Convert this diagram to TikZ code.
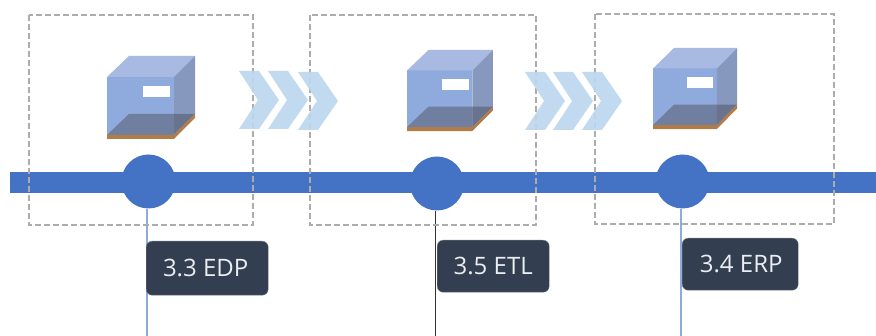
\documentclass[tikz,border=0pt]{standalone}
\usepackage{fontspec}
\setmainfont{Open Sans}
\definecolor{barblue}{RGB}{68,114,196}
\definecolor{stemblue}{RGB}{143,170,220}
\definecolor{chev}{RGB}{189,215,238}
\definecolor{dashgray}{RGB}{172,172,172}
\definecolor{labelbg}{RGB}{51,63,80}
\definecolor{labeltx}{RGB}{235,238,242}
\definecolor{cubefront}{RGB}{143,170,220}
\definecolor{cubetop}{RGB}{168,186,225}
\definecolor{cuberight}{RGB}{134,152,190}
\definecolor{cubefloor}{RGB}{112,127,160}
\definecolor{cubefloorb}{RGB}{105,115,142}
\definecolor{cubebrown}{RGB}{178,124,72}
\tikzset{
  framebox/.style={draw=dashgray,line width=1.7pt,dash pattern=on 6pt off 3pt},
  dotnode/.style={circle,fill=barblue,inner sep=0pt,minimum size=54pt},
  stemline/.style={line width=1.1pt,draw=stemblue},
  stemdark/.style={line width=0.8pt,draw=black!80},
  labelbox/.style={fill=labelbg,draw=labelbg!70,line width=.4pt,rounded corners=6pt,text=labeltx,font=\fontsize{24}{28}\selectfont,inner sep=0pt,anchor=north west},
  chevshape/.style={fill=chev,draw=none,fill opacity=.92},
  pics/cube/.style={code={
    \fill[cubefront] (0,21) -- (67,21) -- (67,79) -- (0,79) -- cycle;
    \fill[cubetop] (0,21) -- (22,0) -- (88,0) -- (67,21) -- cycle;
    \fill[cuberight] (67,21) -- (88,0) -- (88,58) -- (67,79) -- cycle;
    \fill[cubefloor] (0,79) -- (22,58) -- (67,58) -- (67,79) -- cycle;
    \fill[cubefloorb] (67,58) -- (88,58) -- (67,79) -- cycle;
    \fill[cubebrown] (0,79) -- (67,79) -- (88,58) -- (88,62) -- (67,83) -- (0,83) -- cycle;
    \fill[white] (36,30) rectangle (63,41.5);
  }}
}
\newcommand{\chevron}[3]{% left x, top y, bottom y
  \fill[chevshape] (#1,#2) -- ({#1+20},#2) -- ({#1+40},{(#2+#3)/2}) -- ({#1+20},#3) -- (#1,#3) -- ({#1+19},{(#2+#3)/2}) -- cycle;
}
\begin{document}
\begin{tikzpicture}[x=1pt,y=-1pt]
\useasboundingbox (0,0) rectangle (876,336);
\coordinate (frameA) at (29,15);   \coordinate (frameAe) at (253,225);
\coordinate (frameB) at (310,15);  \coordinate (frameBe) at (536,225);
\coordinate (frameC) at (595,14);  \coordinate (frameCe) at (834,224);
\coordinate (barL) at (10,182.5);  \coordinate (barR) at (876,182.5);
\coordinate (endA) at (147,336);
\coordinate (endB) at (435.5,336);
\coordinate (endC) at (681,336);

% timeline
\draw[barblue,line width=21pt] (barL) -- (barR);
\node[dotnode] (dotA) at (148.5,181.5) {};
\node[dotnode] (dotB) at (437,183.5) {};
\node[dotnode] (dotC) at (682.5,181.5) {};

% stems
\draw[stemline] (147,209) -- (endA);
\draw[stemdark] (435.5,211) -- (endB);
\draw[stemline] (681,209) -- (endC);

% frames
\draw[framebox] (frameA) rectangle (frameAe);
\draw[framebox] (frameB) rectangle (frameBe);
\draw[framebox] (frameC) rectangle (frameCe);

% cubes
\pic at (107,56) {cube};
\pic[xscale=.977,yscale=.976] at (407,50) {cube};
\pic[xscale=.955,yscale=.976] at (653,48) {cube};

% chevrons
\chevron{239}{71}{129}
\chevron{268}{71}{129}
\chevron{298}{72}{130}
\chevron{525}{72}{130}
\chevron{553}{72}{130}
\chevron{582}{72}{130}

% labels
\node[labelbox,minimum width=122pt,minimum height=54pt] (labA) at (146,241) {\kern-3pt 3.3 EDP};
\node[labelbox,minimum width=112pt,minimum height=52pt] (labB) at (437,240) {3.5 ETL};
\node[labelbox,minimum width=116pt,minimum height=52pt] (labC) at (682,238) {\kern2pt 3.4 ERP};
\end{tikzpicture}
\end{document}
